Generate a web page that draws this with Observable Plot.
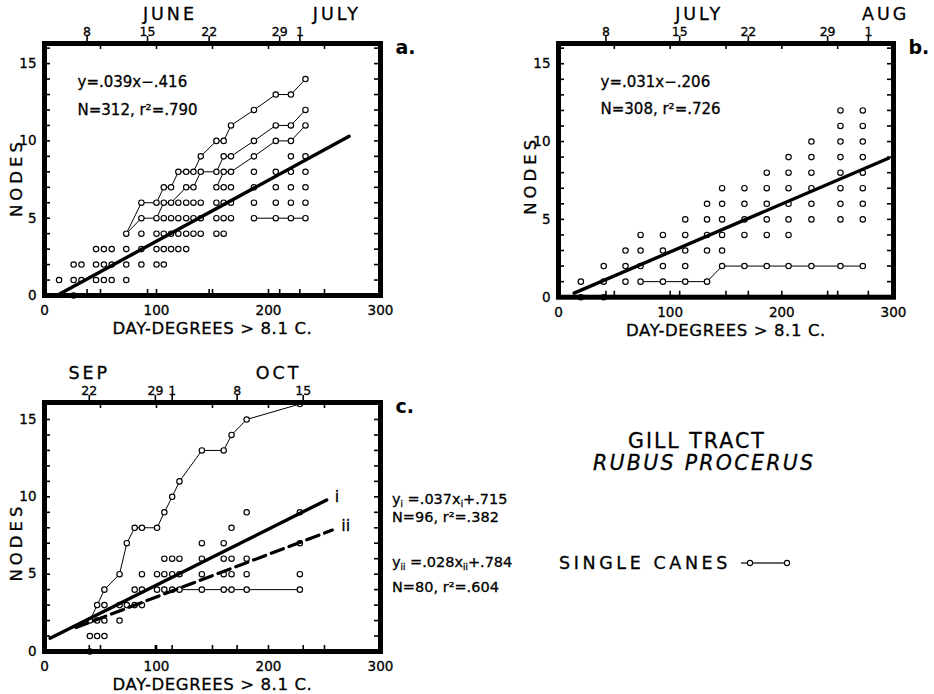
<!DOCTYPE html>
<html><head><meta charset="utf-8">
<script src="https://cdn.jsdelivr.net/npm/d3@7"></script>
<script src="https://cdn.jsdelivr.net/npm/@observablehq/plot@0.6"></script>
<style>
body{margin:0;background:#fff;}
#root{position:relative;width:934px;height:694px;font-family:"DejaVu Sans",sans-serif;color:#000;overflow:hidden;}
.abs{position:absolute;white-space:nowrap;line-height:1;-webkit-text-stroke:0.3px #000;}
sub{font-size:60%;vertical-align:-3px;}
</style></head><body><div id="root"></div>
<script>
// ---------- data ----------
const xLabels = [0, 100, 200, 300];
const yLabels = [0, 5, 10, 15];
const xMinorTicks = [50, 100, 150, 200, 250];
const yMinorTicks = d3.range(1, 17);
const xTitle = "DAY-DEGREES > 8.1 C.";
const yTitle = "NODES";

// panel a: June–July
const aColumns = [
  [13, [1]], [26, [2, 1, 0]], [33, [2, 1]], [46, [3, 2, 1]], [53, [3, 2, 1]], [60, [3, 2, 1]],
  [73, [4, 3, 2, 1]], [86.5, [6, 5, 4, 3, 2]], [100, [6, 5, 4, 3, 2]], [106.5, [7, 6, 5, 4, 3, 2]],
  [113, [7, 6, 5, 4, 3]], [119.5, [8, 6, 5, 4, 3]], [126.5, [8, 7, 6, 5, 4, 3]], [133, [8, 7, 6, 5, 4]],
  [139.5, [9, 8, 6, 5, 4]], [153.5, [10, 8, 7, 6, 5, 4]], [160, [10, 9, 8, 7, 6, 5, 4]],
  [166.5, [11, 9, 8, 7, 6, 5]], [187, [12, 10, 9, 8, 7, 6, 5]], [206.5, [13, 11, 10, 8, 7, 6, 5]],
  [220, [13, 11, 10, 9, 8, 7, 6, 5]], [233, [14, 12, 11, 9, 8, 7, 6, 5]]
];
const aCanes = [
  [[73,4],[86.5,6],[100,6],[106.5,7],[113,7],[119.5,8],[126.5,8],[133,8],[139.5,9],[153.5,10],[160,10],[166.5,11],[187,12],[206.5,13],[220,13],[233,14]],
  [[73,4],[86.5,5],[100,5],[106.5,6],[113,6],[126.5,7],[133,7],[139.5,8],[153.5,8],[160,9],[166.5,9],[187,10],[206.5,11],[220,11],[233,12]],
  [[153.5,7],[160,8],[166.5,8],[187,9],[206.5,10],[220,10],[233,11]],
  [[187,5],[206.5,5],[220,5],[233,5]]
];
const aFit = [[11, 0], [272, 10.3]];
const aDates = [{label: "8", x: 38}, {label: "15", x: 92}, {label: "22", x: 147}, {label: "29", x: 210}, {label: "1", x: 228}];
const aMonths = [{label: "JUNE", x: 112}, {label: "JULY", x: 261}];
const aEquations = ["y=.039x−.416", "N=312, r²=.790"];

// panel b: July–August
const bColumns = [
  [20, [1, 0]], [40.5, [2, 1, 0]], [60, [3, 2, 1]], [73.5, [4, 3, 2, 1]], [93.5, [4, 3, 2, 1]],
  [113.5, [5, 4, 3, 2, 1]], [133, [6, 5, 4, 3, 1]], [146.5, [7, 6, 5, 4, 3, 2]], [166.5, [7, 6, 5, 4, 2]],
  [186.5, [8, 7, 6, 5, 4, 2]], [206, [9, 8, 7, 6, 5, 4, 2]], [226.5, [10, 9, 8, 7, 6, 5, 2]],
  [252.5, [12, 11, 10, 9, 8, 7, 6, 5, 2]], [272.5, [12, 11, 10, 9, 8, 7, 6, 5, 2]]
];
const bCanes = [
  [[73.5,1],[93.5,1],[113.5,1],[133,1],[146.5,2],[166.5,2],[186.5,2],[206,2],[226.5,2],[252.5,2],[272.5,2]]
];
const bFit = [[14, 0.26], [295.5, 8.93]];
const bDates = [{label: "8", x: 42.5}, {label: "15", x: 108.5}, {label: "22", x: 170}, {label: "29", x: 241}, {label: "1", x: 277.5}];
const bMonths = [{label: "JULY", x: 126}, {label: "AUG", x: 293}];
const bEquations = ["y=.031x−.206", "N=308, r²=.726"];

// panel c: September–October
const cColumns = [
  [40.5, [2, 1, 0]], [47, [3, 2, 1]], [53.5, [4, 3, 2, 1]], [67, [5, 3, 2]], [73.5, [7, 3]],
  [80.5, [8, 4, 3]], [87, [8, 5, 4, 3]], [100.5, [8, 5, 4]], [107, [9, 6, 5, 4]], [114, [10, 6, 5, 4]],
  [120.5, [11, 6, 5, 4]], [140.5, [13, 7, 6, 5, 4]], [160, [13, 7, 6, 5, 4]], [167, [14, 8, 6, 5, 4]],
  [180.5, [15, 9, 6, 5, 4]], [228, [16, 9, 7, 5, 4]]
];
const cCanes = [
  [[40.5,2],[47,3],[53.5,4],[67,5],[73.5,7],[80.5,8],[87,8],[100.5,8],[107,9],[114,10],[120.5,11],[140.5,13],[160,13],[167,14],[180.5,15],[228,16]],
  [[120.5,4],[140.5,4],[160,4],[167,4],[180.5,4],[228,4]]
];
const cFitI = [[5, 0.85], [252, 9.8]];
const cFitII = [[28, 1.55], [257, 7.85]];
const cDates = [{label: "22", x: 40}, {label: "29", x: 99}, {label: "1", x: 114}, {label: "8", x: 172}, {label: "15", x: 231}];
const cMonths = [{label: "SEP", x: 40}, {label: "OCT", x: 209}];

// ---------- drawing ----------
const root = document.getElementById("root");
const FONT = "DejaVu Sans, sans-serif";
const ink = {fill: "black", stroke: "black", strokeWidth: 0.3};

function drawPanel(o) {
  const m = o.margin;
  const fw = o.width - m.left - m.right, fh = o.height - m.top - m.bottom;
  const dots = o.columns.flatMap(([x, ys]) => ys.map(y => ({x, y})));
  const lines = o.canes.flatMap((c, i) => c.map(([x, y]) => ({x, y, cane: i})));
  const marks = [
    Plot.line(lines, {x: "x", y: "y", z: "cane", stroke: "black", strokeWidth: 1}),
    Plot.dot(dots, {x: "x", y: "y", r: 2.7, stroke: "black", fill: "white", strokeWidth: 1.15}),
    Plot.line(o.fit, {x: d => d[0], y: d => d[1], stroke: "black", strokeWidth: 3.4}),
  ];
  if (o.fit2) marks.push(Plot.line(o.fit2, {x: d => d[0], y: d => d[1], stroke: "black", strokeWidth: 3.2, strokeDasharray: "13,6"}));
  marks.push(
    Plot.ruleX(xMinorTicks, {x: d => d, insetTop: fh - 6, strokeWidth: 1.6}),
    Plot.ruleX(xMinorTicks, {x: d => d, insetBottom: fh - 6, strokeWidth: 1.6}),
    Plot.ruleX(o.dates, {x: "x", insetTop: fh - 6, strokeWidth: 1.6}),
    Plot.ruleX(o.dates, {x: "x", insetTop: -7, insetBottom: fh, strokeWidth: 1.6}),
    Plot.ruleY(yMinorTicks, {y: d => d, insetRight: fw - 6, strokeWidth: 1.6}),
    Plot.ruleY(yMinorTicks, {y: d => d, insetLeft: fw - 6, strokeWidth: 1.6}),
    Plot.frame({stroke: "black", strokeWidth: 5}),
    Plot.text(xLabels, {x: d => d, frameAnchor: "bottom", lineAnchor: "middle", dy: 15, fontSize: 13.5, ...ink}),
    Plot.text(yLabels, {y: d => d, frameAnchor: "left", textAnchor: "end", lineAnchor: "middle", dx: -8, fontSize: 13.5, ...ink}),
    Plot.text(o.dates, {x: "x", text: "label", frameAnchor: "top", lineAnchor: "middle", dy: -11.5, fontSize: 12.5, ...ink}),
    Plot.text(o.months, {x: "x", text: "label", frameAnchor: "top", lineAnchor: "middle", dy: -29.5, fontSize: 17.5, ...ink}),
    Plot.text([xTitle], {frameAnchor: "bottom", lineAnchor: "middle", dy: 33.5, fontSize: 16.5, ...ink}),
    Plot.text([yTitle], {frameAnchor: "left", textAnchor: "middle", lineAnchor: "middle", rotate: -90, dx: -28, dy: o.nodesDy, fontSize: 16.5, ...ink}),
    Plot.text([o.letter], {frameAnchor: "top-right", textAnchor: "start", lineAnchor: "middle", dx: 15, dy: 4, fontSize: 19, fontWeight: "bold", fill: "black"})
  );
  if (o.equations) o.equations.forEach((t, i) => marks.push(
    Plot.text([t], {frameAnchor: "top-left", textAnchor: "start", lineAnchor: "middle", dx: o.eqDx, dy: o.eqDy + i * o.eqGap, fontSize: 15, ...ink})
  ));
  if (o.fitLabels) o.fitLabels.forEach(({fit, label, dx, dy}) => marks.push(
    Plot.text([fit[fit.length - 1]], {x: d => d[0], y: d => d[1], text: () => label, textAnchor: "start", dx, dy, fontSize: 16, ...ink})
  ));
  const svg = Plot.plot({
    width: o.width, height: o.height,
    marginTop: m.top, marginRight: m.right, marginBottom: m.bottom, marginLeft: m.left,
    x: {domain: [0, 300], axis: null},
    y: {domain: [0, o.yMax], axis: null},
    style: {fontFamily: FONT, background: "transparent", overflow: "visible", color: "black"},
    marks
  });
  const spacing = {[yTitle]: 4, [xTitle]: 0.6};
  o.months.forEach(d => spacing[d.label] = 3);
  d3.select(svg).selectAll("text").each(function() {
    const t = this.textContent;
    if (spacing[t] != null) d3.select(this).attr("letter-spacing", spacing[t]);
  });
  svg.style.position = "absolute";
  svg.style.left = o.left + "px";
  svg.style.top = o.top + "px";
  root.appendChild(svg);
}

drawPanel({left: 0, top: 0, width: 420, height: 340, margin: {top: 43, right: 40, bottom: 45, left: 44},
  yMax: 16.3, columns: aColumns, canes: aCanes, fit: aFit, dates: aDates, months: aMonths,
  equations: aEquations, eqDx: 33, eqDy: 39, eqGap: 28, letter: "a.", nodesDy: 8});
drawPanel({left: 500, top: 0, width: 434, height: 340, margin: {top: 43, right: 41, bottom: 43.3, left: 58},
  yMax: 16.3, columns: bColumns, canes: bCanes, fit: bFit, dates: bDates, months: bMonths,
  equations: bEquations, eqDx: 42, eqDy: 39, eqGap: 26.5, letter: "b.", nodesDy: 5});
drawPanel({left: 0, top: 360, width: 420, height: 334, margin: {top: 42, right: 40, bottom: 43, left: 44},
  yMax: 16.1, columns: cColumns, canes: cCanes, fit: cFitI, fit2: cFitII, dates: cDates, months: cMonths,
  letter: "c.", nodesDy: 15,
  fitLabels: [{fit: cFitI, label: "i", dx: 8, dy: -3}, {fit: cFitII, label: "ii", dx: 9, dy: -4}]});

// ---------- side text ----------
function addText(html, left, top, style) {
  const d = document.createElement("div");
  d.className = "abs";
  d.innerHTML = html;
  d.style.left = left + "px";
  d.style.top = top + "px";
  Object.assign(d.style, style || {});
  root.appendChild(d);
  return d;
}
const cEquations = [
  "y<sub>i</sub> =.037x<sub>i</sub>+.715",
  "N=96, r²=.382",
  "y<sub>ii</sub> =.028x<sub>ii</sub>+.784",
  "N=80, r²=.604"
];
const cEqTops = [492, 510, 555, 580];
cEquations.forEach((t, i) => addText(t, 392, cEqTops[i], {fontSize: "14.5px"}));

const headTitle = "GILL TRACT";
const headSpecies = "RUBUS PROCERUS";
const legendLabel = "SINGLE CANES";
const t1 = addText(headTitle, 0, 431, {fontSize: "20.5px", letterSpacing: "2px"});
t1.style.left = (697 - t1.offsetWidth / 2) + "px";
const t2 = addText(headSpecies, 0, 453, {fontSize: "20.5px", letterSpacing: "2.3px", fontStyle: "italic"});
t2.style.left = (704 - t2.offsetWidth / 2) + "px";
addText(legendLabel, 559, 555, {fontSize: "17.5px", letterSpacing: "3.6px"});

// legend glyph: single cane line with open circles
const lg = d3.select(root).append("svg").attr("width", 56).attr("height", 14)
  .style("position", "absolute").style("left", "738px").style("top", "556px");
lg.append("line").attr("x1", 3).attr("x2", 9).attr("y1", 7).attr("y2", 7).attr("stroke", "black").attr("stroke-width", 1.2);
lg.append("line").attr("x1", 15).attr("x2", 46).attr("y1", 7).attr("y2", 7).attr("stroke", "black").attr("stroke-width", 1.2);
[12, 49].forEach(cx => lg.append("circle").attr("cx", cx).attr("cy", 7).attr("r", 2.6)
  .attr("fill", "white").attr("stroke", "black").attr("stroke-width", 1.1));
</script></body></html>
